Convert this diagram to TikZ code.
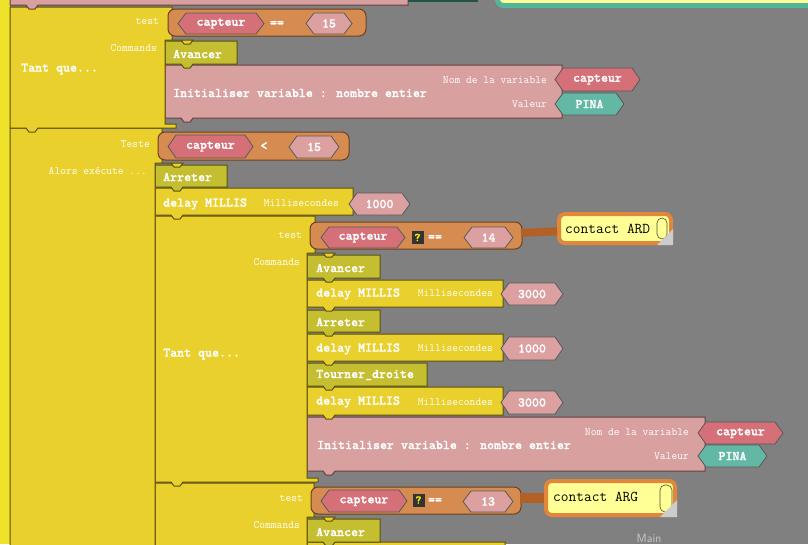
\documentclass[tikz,border=0pt]{standalone}
\usepackage{fontspec}
\newfontfamily\blkfont{lmmonolt10-bold.otf}[FakeBold=1.2]
\definecolor{bggray}{RGB}{128,128,128}
\definecolor{stripyellow}{RGB}{238,226,42}
\definecolor{ctlyellow}{RGB}{234,208,44}
\definecolor{ctldark}{RGB}{96,80,8}
\definecolor{cmdolive}{RGB}{196,190,48}
\definecolor{cmddark}{RGB}{88,84,12}
\definecolor{varpink}{RGB}{216,160,158}
\definecolor{vardark}{RGB}{104,64,64}
\definecolor{capred}{RGB}{214,112,120}
\definecolor{numpink}{RGB}{220,160,160}
\definecolor{pinteal}{RGB}{98,184,164}
\definecolor{cmporange}{RGB}{214,140,80}
\definecolor{cmpdark}{RGB}{110,64,28}
\definecolor{noteyellow}{RGB}{255,255,150}
\definecolor{noteorange}{RGB}{226,134,58}
\definecolor{notewire}{RGB}{178,96,38}
\definecolor{noteteal}{RGB}{84,182,152}
\definecolor{tealdark}{RGB}{34,82,72}
\tikzset{
  ctl/.style={fill=ctlyellow,draw=ctldark,line width=1pt},
  cmd/.style={fill=cmdolive,draw=cmddark,line width=1pt},
  setvar/.style={fill=varpink,draw=vardark,line width=1pt},
  cmp/.style={fill=cmporange,draw=cmpdark,line width=1pt,rounded corners=7pt},
  val/.style={draw=black!65,line width=0.8pt},
  blktxt/.style={text=white,inner sep=0pt,font=\blkfont\fontsize{13.3}{14}\selectfont},
  lbltxt/.style={text=white,inner sep=0pt,font=\ttfamily\fontsize{11.2}{12}\selectfont},
  notetxt/.style={text=black,inner sep=0pt,font=\ttfamily\fontsize{15}{16}\selectfont},
  noteframe/.style={draw=noteorange,fill=noteyellow,line width=4pt,rounded corners=6pt,inner sep=0pt},
  wire/.style={draw=notewire},
  knob/.style={draw=black!55!olive,line width=0.6pt,rounded corners=5pt},
  qbox/.style={fill=black!80,text=yellow,inner sep=0pt,minimum width=12pt,minimum height=13pt,font=\blkfont\fontsize{12}{12}\selectfont},
}
% statement block with its nub: style, x1, y1, x2, y2
\newcommand{\stmtblk}[5]{%
  \draw[#1] (#2,#3) -- (#4,#3) -- (#4,#5) -- ({#2+28},#5) -- ({#2+25},{#5+4}) -- ({#2+19},{#5+4}) -- ({#2+16},#5) -- (#2,#5) -- cycle;}
% loop block: x1, y1, arm x, arm y, wall x, bottom y, lip x
\newcommand{\ctlblk}[7]{%
  \draw[ctl] (#1,#2) -- (#3,#2) -- (#3,#4) -- ({#5+28},#4) -- ({#5+25},{#4+4}) -- ({#5+19},{#4+4}) -- ({#5+16},#4) -- (#5,#4) -- (#5,{#6-4}) -- (#7,{#6-4}) -- (#7,#6) -- ({#1+28},#6) -- ({#1+25},{#6+4}) -- ({#1+19},{#6+4}) -- ({#1+16},#6) -- (#1,#6) -- cycle;}
% value block: colour, x1, y1, x2, y2, name, text
\newcommand{\valblk}[7]{%
  \draw[val,fill=#1] (#2,{(#3+#5)/2}) -- ({#2+8},#3) -- ({#4-8},#3) -- (#4,{(#3+#5)/2}) -- ({#4-8},#5) -- ({#2+8},#5) -- cycle;
  \node[blktxt] (#6) at ({(#2+#4)/2},{(#3+#5)/2}) {#7};}
\begin{document}
\begin{tikzpicture}[x=1pt,y=-1pt]
\useasboundingbox (0,0) rectangle (808,544);
\fill[bggray] (0,0) rectangle (808,544);
\clip (0,0) rectangle (808,544);
\fill[stripyellow] (0,0) rectangle (10,544);

% lowest blocks first, so each nub lies on the block under it
\stmtblk{ctl}{307}{542}{505}{570}
\stmtblk{cmd}{307}{519}{380}{542}
\ctlblk{155}{483}{314}{517}{307}{570}{318}
\stmtblk{setvar}{307}{417}{705}{471}
\stmtblk{ctl}{307}{387}{503}{415}
\stmtblk{cmd}{307}{363}{427}{386}
\stmtblk{ctl}{307}{334}{503}{361}
\stmtblk{cmd}{307}{310}{380}{332}
\stmtblk{ctl}{307}{280}{503}{307}
\stmtblk{cmd}{307}{255}{380}{278}
\ctlblk{155}{216}{315}{253}{307}{482}{318}
\stmtblk{ctl}{155}{188}{353}{215}
\stmtblk{cmd}{155}{165}{227}{187}
\ctlblk{10}{128}{162}{163}{155}{570}{166}
\stmtblk{setvar}{165}{65}{562}{118}
\stmtblk{cmd}{165}{41}{237}{64}
\ctlblk{10}{7}{172}{40}{165}{128}{176}
\stmtblk{setvar}{10}{-10}{408}{5}
\fill[tealdark] (408,-5) rectangle (478,1.5);
\draw[draw=noteteal,fill=noteyellow,line width=5pt,rounded corners=6pt] (497.5,-20) rectangle (830,5.5);

% first loop
\node[lbltxt,anchor=east] (test1) at (159,21) {test};
\node[lbltxt,anchor=east] (cmds1) at (157,48) {Commands};
\node[blktxt,anchor=west] (loop1) at (21,69) {Tant que...};
\draw[cmp] (168,9) rectangle (366,36);
\valblk{capred}{178}{13}{264}{34}{cap1}{capteur}
\node[blktxt] (eq1) at (277,24) {==};
\valblk{numpink}{306}{13}{352}{34}{num1}{15}
\node[blktxt,anchor=west] (fwd1) at (173,54) {Avancer};
\node[blktxt,anchor=west] (init1) at (173,93) {Initialiser variable : nombre entier};
\node[lbltxt,anchor=east] (name1) at (547,80) {Nom de la variable};
\node[lbltxt,anchor=east] (value1) at (547,104) {Valeur};
\valblk{capred}{555}{68}{640}{91}{cap2}{capteur}
\valblk{pinteal}{555}{93}{624}{115}{pin1}{PINA}

% if block
\node[lbltxt,anchor=east] (teste) at (150,144) {Teste};
\node[lbltxt,anchor=east] (alors) at (147,171) {Alors exécute ...};
\draw[cmp] (158,132) rectangle (349,160);
\valblk{capred}{168}{135}{253}{158}{cap3}{capteur}
\node[blktxt] (lt1) at (264,146) {<};
\valblk{numpink}{289}{136}{339}{158}{num2}{15}
\node[blktxt,anchor=west] (stop1) at (163,177) {Arreter};
\node[blktxt,anchor=west] (delay1) at (163,204) {delay MILLIS};
\node[lbltxt,anchor=east] (ms1) at (339,203) {Millisecondes};
\valblk{numpink}{349}{193}{410}{215}{num3}{1000}

% second loop
\node[lbltxt,anchor=east] (test2) at (302,235) {test};
\node[lbltxt,anchor=east] (cmds2) at (300,262) {Commands};
\node[blktxt,anchor=west] (loop2) at (163,354) {Tant que...};
\draw[cmp] (310,222) rectangle (522,249);
\coordinate (cmp2end) at (521,233);
\valblk{capred}{321}{227}{405}{248}{cap4}{capteur}
\node[qbox] (q1) at (417.5,237.5) {?};
\node[blktxt] (eq2) at (435,238) {==};
\valblk{numpink}{464}{227}{513}{248}{num4}{14}
\node[noteframe,minimum width=112pt,minimum height=29pt] (ardnote) at (615,228.5) {};
\draw[wire,line width=8pt] (cmp2end) -- (ardnote);
\node[notetxt,anchor=west] (ardtxt) at (565,229) {contact ARD};
\draw[knob] (657,218) rectangle (667,239);
\fill[black!20] (673,229) -- (673,245) -- (657,245) -- cycle;
\node[blktxt,anchor=west] (fwd2) at (316,268) {Avancer};
\node[blktxt,anchor=west] (delay2) at (316,294) {delay MILLIS};
\node[lbltxt,anchor=east] (ms2) at (493,293) {Millisecondes};
\valblk{numpink}{501}{283}{563}{305}{num5}{3000}
\node[blktxt,anchor=west] (stop2) at (316,322) {Arreter};
\node[blktxt,anchor=west] (delay3) at (316,349) {delay MILLIS};
\node[lbltxt,anchor=east] (ms3) at (493,348) {Millisecondes};
\valblk{numpink}{501}{337}{563}{360}{num6}{1000}
\node[blktxt,anchor=west] (right1) at (316,375) {Tourner\_droite};
\node[blktxt,anchor=west] (delay4) at (316,402) {delay MILLIS};
\node[lbltxt,anchor=east] (ms4) at (493,402) {Millisecondes};
\valblk{numpink}{501}{391}{563}{414}{num7}{3000}
\node[blktxt,anchor=west] (init2) at (317,445) {Initialiser variable : nombre entier};
\node[lbltxt,anchor=east] (name2) at (689,432) {Nom de la variable};
\node[lbltxt,anchor=east] (value2) at (689,456) {Valeur};
\valblk{capred}{698}{422}{783}{444}{cap5}{capteur}
\valblk{pinteal}{698}{445}{767}{467}{pin2}{PINA}

% third loop
\node[lbltxt,anchor=east] (test3) at (303,498) {test};
\node[lbltxt,anchor=east] (cmds3) at (300,525) {Commands};
\draw[cmp] (311,487) rectangle (521,514);
\coordinate (cmp3end) at (520,498);
\valblk{capred}{321}{490}{407}{512}{cap6}{capteur}
\node[qbox] (q2) at (418.5,500) {?};
\node[blktxt] (eq3) at (435,501) {==};
\valblk{numpink}{463}{491}{513}{512}{num8}{13}
\node[noteframe,minimum width=129pt,minimum height=34pt] (argnote) at (610.5,498) {};
\draw[wire,line width=10pt] (cmp3end) -- (argnote);
\node[notetxt,anchor=west] (argtxt) at (553,497) {contact ARG};
\draw[knob] (660,485) rectangle (672,512);
\fill[black!20] (677,500) -- (677,517) -- (660,517) -- cycle;
\node[blktxt,anchor=west] (fwd3) at (316,532) {Avancer};

\node[text=black!22,inner sep=0pt,font=\sffamily\fontsize{12}{13}\selectfont] (mainlbl) at (649,538) {Main};
\end{tikzpicture}
\end{document}
